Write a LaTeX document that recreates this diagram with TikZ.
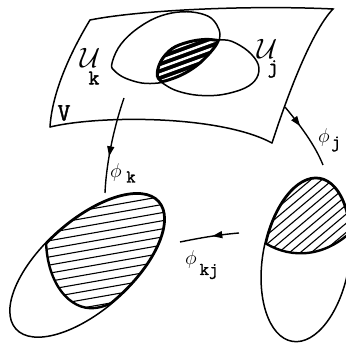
\documentclass[tikz,border=0pt]{standalone}
\usepackage{fix-cm}
\usepackage{fontspec}
\newfontfamily\heavytt{Latin Modern Mono}[FakeBold=1.6]
\usepackage{tikz}
\usetikzlibrary{arrows.meta,decorations.markings}

\newcommand{\pathUk}{plot[smooth cycle, tension=0.6] coordinates {(111.7,278.3) (118.3,295) (131.7,310) (151.7,323.3) (171.7,330) (191.7,331) (208.3,326.7) (216.7,318.3) (220,308.3) (217.5,299) (209,288) (198,277.5) (185,269) (171.7,263.3) (158.3,260) (141.7,260) (125,265) (115,271.7)}}
\newcommand{\pathUj}{plot[smooth cycle, tension=0.6] coordinates {(156.7,266.7) (160,281.7) (171.7,295) (188.3,301.7) (205,304.3) (218.3,303.3) (231.7,301.7) (248.3,291.7) (258.3,278.3) (256.7,265) (245,255) (221.7,248.3) (198.3,247.7) (178.3,251.7) (165,258.3)}}
\newcommand{\ellAk}{(87.5,78) ellipse [x radius=96pt, y radius=45pt, rotate=41.7]}
\newcommand{\ellAj}{(306,83.5) ellipse [x radius=83pt, y radius=43.4pt, rotate=80.5]}

\tikzset{
  sheet/.style={line width=1.5pt, line cap=round},
  rim/.style={line width=1.5pt},
  hatchline/.style={line width=1.1pt},
  chartmap/.style={line width=1.4pt, decoration={markings,
      mark=at position #1 with {\arrow{Triangle[length=10pt,width=7pt]}}},
    postaction={decorate}},
  callab/.style={inner sep=0pt, font=\fontsize{28}{28}\selectfont},
  ttbig/.style={inner sep=0pt, font=\fontsize{21}{21}\selectfont\heavytt},
  ttname/.style={inner sep=0pt, font=\fontsize{25}{25}\selectfont\heavytt},
  philab/.style={inner sep=0pt, font=\fontsize{20}{20}\selectfont},
  ttsmall/.style={inner sep=0pt, font=\fontsize{18}{18}\selectfont\heavytt},
}

\begin{document}
\begin{tikzpicture}[x=1pt, y=1pt]
  \clip (0,0) rectangle (346,343);

  % Sheet V
  \coordinate (TL) at (90,323);
  \coordinate (TR) at (333,334);
  \coordinate (BR) at (272,200);
  \coordinate (BL) at (50,216);
  \draw[sheet] (TL) .. controls (140,333) and (250,338) .. (TR)
    .. controls (310,310) and (285,240) .. (BR);
  \draw[sheet] (TL) .. controls (70,290) and (52,250) .. (BL);
  \draw[sheet] (BL) .. controls (100,228) and (220,228) .. (BR);

  % Overlap of U_k and U_j
  \begin{scope}
    \clip \pathUk;
    \clip \pathUj;
    \fill \pathUj;
    \begin{scope}[shift={(188,284)}, rotate=20]
      \foreach \y in {-18,-11.5,...,18}
        \draw[white, line width=2.4pt] (-45,\y) -- (45,\y);
    \end{scope}
    \draw[line width=4.5pt] \pathUk;
    \draw[line width=4.5pt] \pathUj;
  \end{scope}
  \draw[rim] \pathUk;
  \draw[rim] \pathUj;

  % Image of U_k
  \draw[rim] \ellAk;
  \begin{scope}
    \clip \ellAk;
    \draw[line width=2.4pt] (46,108) .. controls (45,60) and (70,32) .. (95,35)
      .. controls (112,37) and (126,48) .. (138,62);
    \begin{scope}
      \clip (46,108) .. controls (45,60) and (70,32) .. (95,35)
        .. controls (112,37) and (126,48) .. (138,62)
        -- (200,62) -- (200,200) -- (46,200) -- cycle;
      \begin{scope}[shift={(100,95)}, rotate=10]
        \foreach \y in {-80,-72,...,80}
          \draw[hatchline] (-110,\y) -- (110,\y);
      \end{scope}
      \draw[line width=4pt] \ellAk;
    \end{scope}
  \end{scope}

  % Image of U_j
  \draw[rim] \ellAj;
  \begin{scope}
    \clip \ellAj;
    \draw[line width=2.4pt] (262,102) .. controls (285,86) and (320,82) .. (352,112);
    \begin{scope}
      \clip (262,102) .. controls (285,86) and (320,82) .. (352,112)
        -- (352,200) -- (250,200) -- (250,102) -- cycle;
      \begin{scope}[shift={(305,140)}, rotate=40]
        \foreach \y in {-70,-63,...,70}
          \draw[hatchline] (-90,\y) -- (90,\y);
      \end{scope}
      \draw[line width=4pt] \ellAj;
    \end{scope}
  \end{scope}

  % Maps
  \coordinate (kFrom) at (124,245);
  \coordinate (kTo) at (105,150);
  \coordinate (jFrom) at (285,236);
  \coordinate (jTo) at (323,178);
  \coordinate (kjFrom) at (239,110);
  \coordinate (kjTo) at (180,101);
  \draw[chartmap=0.62] (kFrom) .. controls (112,210) and (106,175) .. (kTo);
  \draw[chartmap=0.35] (jFrom) .. controls (300,218) and (315,198) .. (jTo);
  \draw[chartmap=0.45] (kjFrom) .. controls (215,108) and (195,104) .. (kjTo);

  % Labels
  \node[callab] (Uk) at (90,285) {$\mathcal{U}$};
  \node[ttbig] (Uksub) at (94,265) {k};
  \node[callab] (Uj) at (267,294) {$\mathcal{U}$};
  \node[ttbig] (Ujsub) at (273,274) {j};
  \node[ttname] (V) at (64,230) {V};
  \node[philab] (phik) at (116,170) {$\phi$};
  \node[ttsmall] (phiksub) at (131,166) {k};
  \node[philab] (phij) at (324,205) {$\phi$};
  \node[ttsmall] (phijsub) at (336,199) {j};
  \node[philab] (phikj) at (191,83) {$\phi$};
  \node[ttsmall] (phikjsub) at (209,71.5) {kj};
\end{tikzpicture}
\end{document}
